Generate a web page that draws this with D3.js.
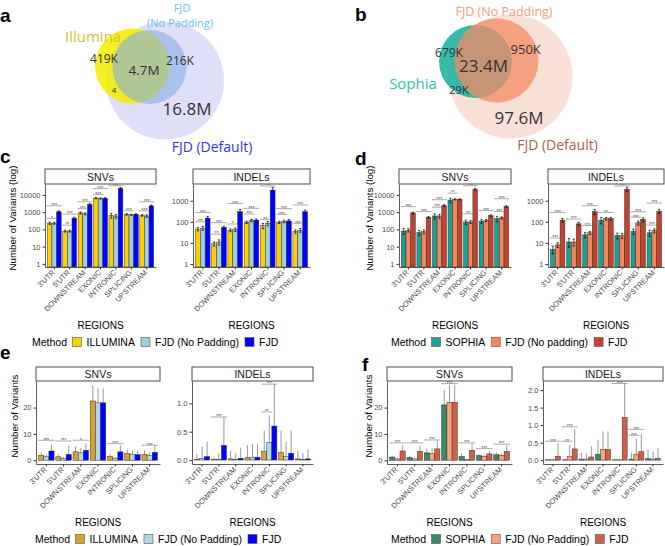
<!DOCTYPE html>
<html>
<head>
<meta charset="utf-8">
<script src="https://cdn.jsdelivr.net/npm/d3@7"></script>
<style>
  body { margin: 0; background: #fff; }
  svg { display: block; }
</style>
</head>
<body>
<script>
// ---- data ----
var regions = ["3'UTR", "5'UTR", "DOWNSTREAM", "EXONIC", "INTRONIC", "SPLICING", "UPSTREAM"];

// venn counts
var vennALabels = ['419K', '4.7M', '216K', '4', '16.8M'];
var vennBLabels = ['679K', '23.4M', '950K', '29K', '97.6M'];

// legend entries
var methodsIllumina = ['ILLUMINA', 'FJD (No Padding)', 'FJD'];
var methodsSophiaD = ['SOPHIA', 'FJD (No padding)', 'FJD'];
var methodsSophiaF = ['SOPHIA', 'FJD (No Padding)', 'FJD'];

// c: SNVs (log), rows = ILLUMINA, FJD NP, FJD
var cSnv = [[230, 80, 900, 6500, 650, 750, 650],
            [230, 80, 800, 6200, 600, 700, 600],
            [1050, 450, 2800, 6300, 24000, 750, 2300]];
var cSnvErr = [[35, 10, 120, 600, 200, 80, 80],
               [30, 10, 100, 500, 150, 70, 100],
               [150, 60, 400, 600, 3000, 60, 300]];
var cIndel = [[45, 9, 40, 95, 65, 95, 35],
              [50, 11, 43, 115, 85, 105, 40],
              [150, 55, 300, 120, 3200, 110, 300]];
var cIndelErr = [[8, 2, 6, 12, 18, 12, 6],
                 [10, 3, 8, 15, 20, 15, 8],
                 [30, 8, 80, 15, 1000, 20, 60]];
// significance: [region, fromBar, toBar, y, label]
var cSnvSig = [[0, 0, 2, 2350, '***'], [0, 0, 1, 436, '*'], [1, 0, 2, 770, '***'], [1, 0, 1, 178, '**'],
               [2, 0, 2, 4000, '***'], [2, 0, 1, 1580, '***'], [3, 0, 2, 23000, '***'], [3, 0, 1, 10500, '***'],
               [4, 0, 2, 34000, '***'], [5, 0, 1, 1200, '***'], [6, 0, 2, 4000, '***'], [6, 0, 1, 1200, '***']];
var cIndelSig = [[0, 0, 2, 280, '***'], [0, 0, 1, 100, '***'], [1, 0, 2, 91, '***'], [1, 0, 1, 26, '**'],
                 [2, 0, 2, 750, '***'], [2, 0, 1, 79, '*'], [3, 0, 2, 436, '***'], [3, 0, 1, 235, '***'],
                 [4, 0, 2, 5000, '***'], [4, 0, 1, 131, '**'], [5, 0, 2, 420, '***'], [5, 0, 1, 225, '***'],
                 [6, 0, 2, 630, '***'], [6, 0, 1, 85, '***']];

// d: rows = SOPHIA, FJD NP, FJD
var dSnv = [[80, 65, 600, 5000, 270, 300, 420],
            [90, 75, 600, 5500, 270, 330, 470],
            [900, 500, 2400, 5500, 21000, 620, 2100]];
var dSnvErr = [[30, 20, 200, 1500, 80, 80, 150],
               [20, 20, 150, 400, 50, 50, 60],
               [100, 60, 300, 400, 2500, 80, 250]];
var dIndel = [[5, 11, 24, 120, 22, 35, 30],
              [8, 11, 30, 140, 22, 90, 38],
              [120, 80, 300, 140, 3500, 130, 320]];
var dIndelErr = [[2, 5, 7, 40, 7, 10, 10],
                 [2, 4, 5, 20, 6, 20, 8],
                 [25, 15, 80, 20, 800, 25, 70]];
var dSnvSig = [[0, 0, 2, 2150, '***'], [1, 0, 2, 1100, '***'], [2, 0, 2, 5250, '***'], [2, 0, 1, 1950, '***'],
               [3, 0, 1, 12700, '**'], [4, 0, 2, 34000, '***'], [4, 0, 1, 800, '**'], [5, 0, 2, 1260, '***'],
               [6, 0, 2, 6000, '***'], [6, 0, 1, 1100, '***']];
var dIndelSig = [[0, 0, 2, 280, '***'], [0, 0, 1, 17, '***'], [1, 0, 2, 135, '***'], [2, 0, 2, 580, '***'],
                 [2, 0, 1, 66, '***'], [3, 0, 2, 280, '**'], [4, 0, 2, 5000, '***'], [5, 0, 2, 300, '***'],
                 [5, 0, 1, 165, '***'], [5, 1, 2, 73, '***'], [6, 0, 2, 780, '***'], [6, 0, 1, 70, '***']];

// e: rows = ILLUMINA, FJD NP, FJD (linear)
var eSnv = [[1.8, 1.3, 3.2, 22.5, 1.5, 2.5, 2.2],
            [1.3, 0.7, 2.8, 21.8, 0.8, 2.1, 1.8],
            [3.5, 2.2, 3.8, 21.8, 3.2, 2.1, 3.0]];
var eSnvErr = [[0.95, 0.8, 2.05, 6, 0.75, 1.5, 1.55],
               [0.95, 0.55, 1.8, 5.5, 0.45, 1.65, 1.3],
               [2.4, 3.4, 2.45, 5.5, 2.4, 1.65, 2.6]];
var eIndel = [[0.01, 0.01, 0.02, 0.04, 0.15, 0.13, 0.02],
              [0.03, 0.01, 0.01, 0.05, 0.31, 0.06, 0.01],
              [0.06, 0.26, 0.03, 0.05, 0.6, 0.12, 0.02]];
var eIndelErr = [[0.09, 0.02, 0.14, 0.22, 0.37, 0.39, 0.14],
                 [0.21, 0.11, 0.11, 0.24, 0.48, 0.26, 0.11],
                 [0.27, 0.5, 0.19, 0.24, 0.74, 0.4, 0.17]];
var eSnvSig = [[0, 0, 2, 7.6, '***'], [1, 0, 2, 7.3, '***'], [2, 0, 2, 7.6, '*'], [4, 0, 2, 6.3, '***'], [6, 0, 2, 5.7, '***']];
var eIndelSig = [[1, 0, 2, 0.76, '***'], [4, 0, 1, 0.85, '**'], [4, 0, 2, 1.34, '***']];

// f: rows = SOPHIA, FJD NP, FJD (linear)
var fSnv = [[1.2, 1.1, 2.8, 21, 1.4, 1.8, 2.1],
            [0.5, 0.5, 2.5, 22, 0.3, 1.5, 1.8],
            [3.5, 3.3, 4.3, 22, 3.8, 2.4, 3.3]];
var fSnvErr = [[0.5, 0.5, 1.6, 5.6, 1.35, 0.5, 0.8],
               [0.3, 0.3, 2.1, 6.7, 0.2, 0.6, 0.7],
               [2.1, 2.3, 3.2, 6.7, 2.45, 1.1, 2.3]];
var fIndel = [[0.01, 0.01, 0.03, 0.17, 0.01, 0.03, 0.04],
              [0.01, 0.1, 0.03, 0.3, 0.01, 0.17, 0.03],
              [0.11, 0.32, 0.09, 0.3, 1.22, 0.24, 0.05]];
var fIndelErr = [[0.03, 0.03, 0.18, 0.41, 0.02, 0.18, 0.27],
                 [0.03, 0.33, 0.16, 0.52, 0.02, 0.44, 0.23],
                 [0.37, 0.56, 0.31, 0.52, 0.97, 0.5, 0.29]];
var fSnvSig = [[0, 0, 2, 6.6, '***'], [1, 0, 2, 6.6, '***'], [2, 0, 2, 7.7, '***'], [3, 0, 2, 29.1, '***'],
               [4, 0, 2, 6.6, '***'], [5, 0, 2, 4.4, '***'], [6, 0, 2, 6.1, '***']];
var fIndelSig = [[0, 0, 2, 0.54, '***'], [1, 0, 2, 0.95, '***'], [1, 0, 1, 0.54, '**'], [4, 0, 2, 2.19, '***'],
                 [5, 0, 2, 0.88, '***'], [5, 0, 1, 0.71, '***']];

var snvLogTicks = [1, 10, 100, 1000, 10000];
var indelLogTicks = [1, 10, 100, 1000];
var snvLinTicks = [0, 10, 20];
var eIndelTicks = [0, 0.5, 1.0];
var fIndelTicks = [0, 0.5, 1.0, 1.5, 2.0];

var colC = ['#FFD000', '#9fd0df', '#0000FF'];
var colD = ['#1fa094', '#f7865f', '#c2432d'];
var colE = ['#d9a02e', '#add8e6', '#0000FF'];
var colF = ['#3a8a68', '#f9a27c', '#cd6145'];

// ---- drawing ----
var FONT = "'Liberation Sans', Arial, Helvetica, sans-serif";
var svg = d3.select('body').append('svg')
  .attr('width', 665).attr('height', 546)
  .style('font-family', FONT);

var drawFacet = function(f) {
  var g = svg.append('g');
  var x = d3.scaleBand().domain(regions).range([f.x0, f.x1]).paddingInner(0.1).paddingOuter(0.15);
  var xm = d3.scaleBand().domain([0, 1, 2]).range([0, x.bandwidth()]);
  var y = f.log ? d3.scaleLog().domain(f.domain).range([f.bottom, f.top])
                : d3.scaleLinear().domain(f.domain).range([f.bottom, f.top]);
  var base = f.log ? f.bottom : y(0);

  var bars = [];
  f.values.forEach(function(row, m) {
    row.forEach(function(v, i) {
      bars.push({region: regions[i], m: m, v: v, e: f.errors[m][i]});
    });
  });
  var bx = function(d) { return x(d.region) + xm(d.m); };
  var bw = xm.bandwidth();

  // linear panels: grey error lines behind bars
  if (!f.log) {
    g.selectAll('line.err').data(bars).enter().append('line')
      .attr('x1', function(d) { return bx(d) + bw / 2; })
      .attr('x2', function(d) { return bx(d) + bw / 2; })
      .attr('y1', function(d) { return y(Math.max(0, d.v - d.e)); })
      .attr('y2', function(d) { return y(d.v + d.e); })
      .attr('stroke', '#8c8c8c').attr('stroke-width', 0.9);
  }

  g.selectAll('rect.bar').data(bars).enter().append('rect')
    .attr('x', bx)
    .attr('width', bw)
    .attr('y', function(d) { return y(d.v); })
    .attr('height', function(d) { return Math.max(0, base - y(d.v)); })
    .attr('fill', function(d) { return f.colors[d.m]; })
    .attr('stroke', '#333').attr('stroke-width', 0.5);

  if (f.log) {
    var eb = g.selectAll('g.eb').data(bars).enter().append('g')
      .attr('stroke', '#111').attr('stroke-width', 0.7);
    eb.append('line')
      .attr('x1', function(d) { return bx(d) + bw / 2; })
      .attr('x2', function(d) { return bx(d) + bw / 2; })
      .attr('y1', function(d) { return y(Math.max(f.domain[0], d.v - d.e)); })
      .attr('y2', function(d) { return y(d.v + d.e); });
    ['lo', 'hi'].forEach(function(k) {
      eb.append('line')
        .attr('x1', function(d) { return bx(d) + bw * 0.25; })
        .attr('x2', function(d) { return bx(d) + bw * 0.75; })
        .attr('y1', function(d) { return y(k === 'lo' ? Math.max(f.domain[0], d.v - d.e) : d.v + d.e); })
        .attr('y2', function(d) { return y(k === 'lo' ? Math.max(f.domain[0], d.v - d.e) : d.v + d.e); });
    });
  }

  // significance brackets
  var sg = g.selectAll('g.sig').data(f.sig).enter().append('g');
  sg.append('line')
    .attr('x1', function(d) { return x(regions[d[0]]) + xm(d[1]) - 0.5; })
    .attr('x2', function(d) { return x(regions[d[0]]) + xm(d[2]) + bw + 0.5; })
    .attr('y1', function(d) { return y(d[3]); })
    .attr('y2', function(d) { return y(d[3]); })
    .attr('stroke', '#6b6b6b').attr('stroke-width', 0.6);
  sg.append('text')
    .attr('x', function(d) { return x(regions[d[0]]) + (xm(d[1]) + xm(d[2]) + bw) / 2; })
    .attr('y', function(d) { return y(d[3]) + 1.3; })
    .attr('text-anchor', 'middle').attr('font-size', 5).attr('fill', '#555')
    .text(function(d) { return d[4]; });

  // axes
  var ya = g.append('g').attr('transform', 'translate(' + f.x0 + ',0)')
    .call(d3.axisLeft(y).tickValues(f.ticks).tickFormat(f.fmt).tickSize(2.5).tickSizeOuter(0).tickPadding(2));
  ya.select('.domain').attr('stroke', '#333').attr('stroke-width', 0.8);
  ya.selectAll('.tick line').attr('stroke', '#333');
  ya.selectAll('.tick text').attr('fill', '#4d4d4d').attr('font-size', 7.5).attr('font-family', FONT);

  var xa = g.append('g').attr('transform', 'translate(0,' + f.bottom + ')')
    .call(d3.axisBottom(x).tickSize(2.5).tickSizeOuter(0));
  xa.select('.domain').attr('stroke', '#333').attr('stroke-width', 0.8);
  xa.selectAll('.tick line').attr('stroke', '#333');
  xa.selectAll('.tick text')
    .attr('x', 0).attr('y', 0).attr('dy', 0)
    .attr('transform', 'translate(1,6) rotate(-45)')
    .style('text-anchor', 'end')
    .attr('fill', '#4d4d4d').attr('font-size', 7.5).attr('font-family', FONT);

  // strip on top
  g.append('rect').attr('x', f.x0).attr('y', f.stripTop)
    .attr('width', f.x1 - f.x0).attr('height', f.top - f.stripTop)
    .attr('fill', '#fff').attr('stroke', '#4d4d4d').attr('stroke-width', 1);
  g.append('text').attr('x', (f.x0 + f.x1) / 2).attr('y', f.top - 3.5)
    .attr('text-anchor', 'middle').attr('font-size', 10.5).attr('fill', '#1a1a1a')
    .text(f.title);

  // x title
  g.append('text').attr('x', (f.x0 + f.x1) / 2).attr('y', f.xTitleY)
    .attr('text-anchor', 'middle').attr('font-size', 10).attr('fill', '#000')
    .text('REGIONS');
};

var drawYTitle = function(x, yc, label) {
  svg.append('text').attr('transform', 'translate(' + x + ',' + yc + ') rotate(-90)')
    .attr('text-anchor', 'middle').attr('dy', '0.35em').attr('font-size', 9.7)
    .text(label);
};

var drawLegend = function(x, yc, labels, colors) {
  var g = svg.append('g').attr('font-size', 10.5);
  var t = g.append('text').attr('x', x).attr('y', yc + 3.8).text('Method');
  var cx = x + t.node().getComputedTextLength() + 5.5;
  labels.forEach(function(l, i) {
    g.append('rect').attr('x', cx).attr('y', yc - 4.5).attr('width', 9).attr('height', 9)
      .attr('fill', colors[i]).attr('stroke', '#555').attr('stroke-width', 0.6);
    cx += 9 + 5;
    var tt = g.append('text').attr('x', cx).attr('y', yc + 3.8).text(l);
    cx += tt.node().getComputedTextLength() + 6;
  });
};

var fmtLog = d3.format('d');
var fmtInt = d3.format('d');
var fmt1 = d3.format('.1f');

// panel c
drawFacet({title: 'SNVs', x0: 45, x1: 156, stripTop: 169, top: 184, bottom: 267, log: true, domain: [0.66, 43000],
  values: cSnv, errors: cSnvErr, sig: cSnvSig, colors: colC, ticks: snvLogTicks, fmt: fmtLog, xTitleY: 329});
drawFacet({title: 'INDELs', x0: 193, x1: 310, stripTop: 169, top: 184, bottom: 267, log: true, domain: [0.72, 6200],
  values: cIndel, errors: cIndelErr, sig: cIndelSig, colors: colC, ticks: indelLogTicks, fmt: fmtLog, xTitleY: 329});
drawYTitle(13, 218, 'Number of Variants (log)');
drawLegend(32, 342, methodsIllumina, colC);

// panel d
drawFacet({title: 'SNVs', x0: 399, x1: 511, stripTop: 169, top: 184, bottom: 267, log: true, domain: [0.66, 43000],
  values: dSnv, errors: dSnvErr, sig: dSnvSig, colors: colD, ticks: snvLogTicks, fmt: fmtLog, xTitleY: 329});
drawFacet({title: 'INDELs', x0: 548, x1: 664, stripTop: 169, top: 184, bottom: 267, log: true, domain: [0.72, 6200],
  values: dIndel, errors: dIndelErr, sig: dIndelSig, colors: colD, ticks: indelLogTicks, fmt: fmtLog, xTitleY: 329});
drawYTitle(370, 218, 'Number of Variants (log)');
drawLegend(391, 342, methodsSophiaD, colD);

// panel e
drawFacet({title: 'SNVs', x0: 36, x1: 160, stripTop: 367, top: 381, bottom: 464, log: false, domain: [-1.43, 30.1],
  values: eSnv, errors: eSnvErr, sig: eSnvSig, colors: colE, ticks: snvLinTicks, fmt: fmtInt, xTitleY: 526});
drawFacet({title: 'INDELs', x0: 192, x1: 313, stripTop: 367, top: 381, bottom: 464, log: false, domain: [-0.07, 1.395],
  values: eIndel, errors: eIndelErr, sig: eIndelSig, colors: colE, ticks: eIndelTicks, fmt: fmt1, xTitleY: 526});
drawYTitle(15, 416, 'Number of Variants');
drawLegend(35, 539, methodsIllumina, colE);

// panel f
drawFacet({title: 'SNVs', x0: 387, x1: 512, stripTop: 367, top: 381, bottom: 464, log: false, domain: [-1.43, 30.1],
  values: fSnv, errors: fSnvErr, sig: fSnvSig, colors: colF, ticks: snvLinTicks, fmt: fmtInt, xTitleY: 526});
drawFacet({title: 'INDELs', x0: 543, x1: 663, stripTop: 367, top: 381, bottom: 464, log: false, domain: [-0.11, 2.26],
  values: fIndel, errors: fIndelErr, sig: fIndelSig, colors: colF, ticks: fIndelTicks, fmt: fmt1, xTitleY: 526});
drawYTitle(369, 416, 'Number of Variants');
drawLegend(391, 539, methodsSophiaF, colF);

// ---- venn diagrams ----
var VFONT = "'Open Sans', 'Noto Sans', sans-serif";
var vennA = [
  {cx: 165, cy: 80.5, r: 59, fill: '#c9c9f4', op: 0.6},
  {cx: 132.5, cy: 66, r: 37.5, fill: '#f2ee00', op: 0.85},
  {cx: 149.5, cy: 67, r: 37, fill: '#86aee4', op: 0.6}
];
var vennB = [
  {cx: 510.5, cy: 76.5, r: 62, fill: '#f6cdbd', op: 0.6},
  {cx: 475.5, cy: 61.5, r: 36.5, fill: '#22b2a2', op: 0.9},
  {cx: 496.5, cy: 60.5, r: 42, fill: '#f48a66', op: 0.75}
];
[vennA, vennB].forEach(function(v) {
  svg.append('g').selectAll('circle').data(v).enter().append('circle')
    .attr('cx', function(d) { return d.cx; })
    .attr('cy', function(d) { return d.cy; })
    .attr('r', function(d) { return d.r; })
    .attr('fill', function(d) { return d.fill; })
    .attr('fill-opacity', function(d) { return d.op; });
});

var vennText = [
  // a
  {t: 'Illumina', x: 65, y: 42, s: 15, c: '#d4c23a', a: 'start'},
  {t: 'FJD', x: 182, y: 11.5, s: 11, c: '#66c4f0', a: 'middle'},
  {t: '(No Padding)', x: 180, y: 26.5, s: 11, c: '#66c4f0', a: 'middle'},
  {t: vennALabels[0], x: 104, y: 63, s: 12, c: '#333', a: 'middle'},
  {t: vennALabels[1], x: 144, y: 75, s: 13.5, c: '#333', a: 'middle'},
  {t: vennALabels[2], x: 180, y: 65, s: 12, c: '#333', a: 'middle'},
  {t: vennALabels[3], x: 114, y: 93, s: 8, c: '#333', a: 'middle'},
  {t: vennALabels[4], x: 187, y: 115, s: 17, c: '#333', a: 'middle'},
  {t: 'FJD (Default)', x: 212, y: 152, s: 14, c: '#3535ee', a: 'middle'},
  // b
  {t: 'FJD (No Padding)', x: 504, y: 16, s: 12.5, c: '#f2a080', a: 'middle'},
  {t: vennBLabels[0], x: 449, y: 57, s: 12, c: '#333', a: 'middle'},
  {t: vennBLabels[1], x: 483.5, y: 71.5, s: 17, c: '#333', a: 'middle'},
  {t: vennBLabels[2], x: 525.7, y: 54, s: 13, c: '#333', a: 'middle'},
  {t: 'Sophia', x: 413, y: 89, s: 15, c: '#35c0a8', a: 'middle'},
  {t: vennBLabels[3], x: 459, y: 94, s: 11, c: '#333', a: 'middle'},
  {t: vennBLabels[4], x: 519, y: 124, s: 17, c: '#333', a: 'middle'},
  {t: 'FJD (Default)', x: 557.5, y: 150, s: 14, c: '#b0604c', a: 'middle'}
];
svg.append('g').style('font-family', VFONT).selectAll('text').data(vennText).enter().append('text')
  .attr('x', function(d) { return d.x; })
  .attr('y', function(d) { return d.y; })
  .attr('font-size', function(d) { return d.s; })
  .attr('fill', function(d) { return d.c; })
  .attr('text-anchor', function(d) { return d.a; })
  .text(function(d) { return d.t; });

// panel letters
var letters = [['a', 0, 22], ['b', 355, 21], ['c', 0, 163], ['d', 355, 165], ['e', 0, 359], ['f', 362, 371]];
svg.append('g').selectAll('text').data(letters).enter().append('text')
  .attr('x', function(d) { return d[1]; })
  .attr('y', function(d) { return d[2]; })
  .attr('font-size', 19).attr('font-weight', 'bold')
  .text(function(d) { return d[0]; });
</script>
</body>
</html>
